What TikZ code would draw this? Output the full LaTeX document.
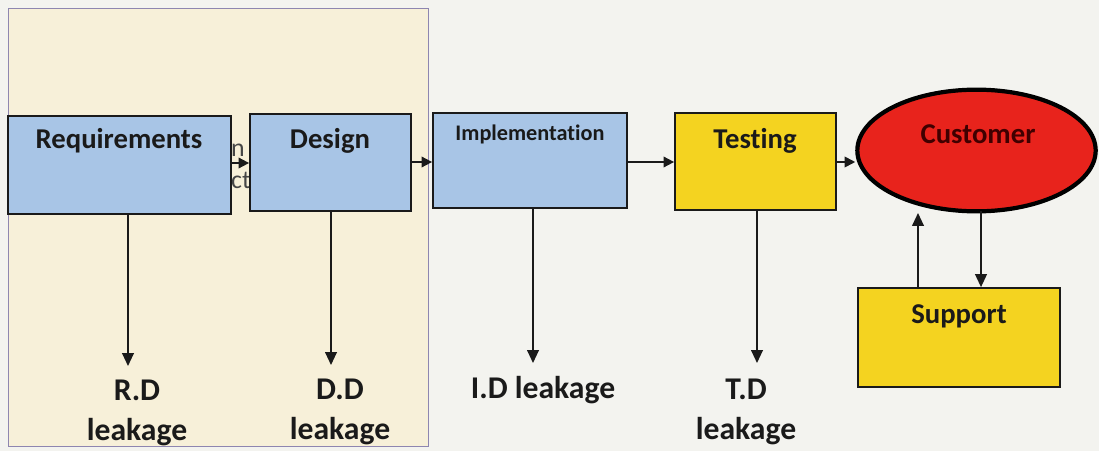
\documentclass[tikz,border=0pt]{standalone}
\usepackage{fontspec}
\setmainfont[Ligatures=NoCommon]{Carlito}
\usetikzlibrary{arrows.meta,shapes.geometric}
\definecolor{pagebg}{HTML}{F3F3EF}
\definecolor{panelbg}{HTML}{F7F0D9}
\definecolor{panelline}{HTML}{8E86B0}
\definecolor{boxblue}{HTML}{A8C5E6}
\definecolor{boxyellow}{HTML}{F4D320}
\definecolor{custred}{HTML}{E8231C}
\definecolor{inkdark}{HTML}{1A1A1A}
\tikzset{
  x=0.03cm, y=-0.03cm,
  stage/.style={draw=inkdark, line width=1.5pt, rectangle, inner sep=0pt},
  bluestage/.style={stage, fill=boxblue},
  yellowstage/.style={stage, fill=boxyellow},
  flow/.style={draw=inkdark, line width=1.5pt, -{Triangle[length=9pt,width=9pt]}},
  leak/.style={draw=inkdark, line width=1.3pt, -{Triangle[length=11pt,width=10pt]}},
  boxtext/.style={font=\bfseries\fontsize{24.5}{28}\selectfont, text=inkdark},
  leaktext/.style={font=\bfseries\fontsize{27}{34}\selectfont, text=inkdark, align=center},
}
\begin{document}
\begin{tikzpicture}
  % page and shaded panel
  \fill[pagebg] (0,0) rectangle (1099,451);
  \useasboundingbox (0,0) rectangle (1099,451);
  \draw[panelline, fill=panelbg, line width=0.8pt] (8,8) rectangle (428,446);
  % text lying underneath the first two stages
  \node[anchor=north west, align=left, inner sep=0pt, text=gray!55!black,
        font=\fontsize{22}{27}\selectfont] (under) at (231,144) {n\\ct};

  % stages
  \node[bluestage, minimum width=6.69cm, minimum height=2.94cm] (req) at (119.5,165) {};
  \node[bluestage, minimum width=4.83cm, minimum height=2.91cm] (des) at (330.5,162.5) {};
  \node[bluestage, minimum width=5.82cm, minimum height=2.85cm] (imp) at (530,160.5) {};
  \node[yellowstage, minimum width=4.83cm, minimum height=2.91cm] (tst) at (755.5,161.5) {};
  \node[ellipse, draw=black, line width=3.6pt, fill=custred, inner sep=0pt,
        minimum width=7.15cm, minimum height=3.65cm] (cus) at (976.5,150.5) {};
  \node[yellowstage, minimum width=6.06cm, minimum height=2.97cm] (sup) at (959,337.5) {};

  % stage titles
  \node[boxtext] (treq) at (119,141) {Requirements};
  \node[boxtext] (tdes) at (330,141) {Design};
  \node[boxtext, font=\bfseries\fontsize{19}{22}\selectfont] (timp) at (530,134) {Implementation};
  \node[boxtext] (ttst) at (755,141) {Testing};
  \node[boxtext, text=black!75!red] (tcus) at (978,134) {Customer};
  \node[boxtext] (tsup) at (959,316) {Support};

  % flow between stages
  \draw[flow] (req.east |- 0,163) -- (des.west |- 0,163);
  \draw[flow] (des.east |- 0,162) -- (imp.west |- 0,162);
  \draw[flow] (imp.east |- 0,162) -- (tst.west |- 0,162);
  \draw[flow] (tst.east |- 0,162) -- (cus.west |- 0,162);

  % customer and support loop
  \coordinate (cusdown) at (981,0);
  \coordinate (supup) at (918,0);
  \draw[leak] (sup.north -| supup) -- (supup |- 0,213);
  \draw[leak] (cusdown |- 0,211) -- (sup.north -| cusdown);

  % defect leakage labels
  \node[leaktext] (lreq) at (137,413) {R.D\\leakage};
  \node[leaktext] (ldes) at (340,412) {D.D\\leakage};
  \node[leaktext] (limp) at (543,390) {I.D leakage};
  \node[leaktext] (ltst) at (746,412) {T.D\\leakage};

  \coordinate (areq) at (128,366);
  \coordinate (ades) at (331,365);
  \coordinate (aimp) at (533,363);
  \coordinate (atst) at (757,363);
  \draw[leak] (req.south -| areq) -- (areq);
  \draw[leak] (des.south -| ades) -- (ades);
  \draw[leak] (imp.south -| aimp) -- (aimp);
  \draw[leak] (tst.south -| atst) -- (atst);
\end{tikzpicture}
\end{document}
